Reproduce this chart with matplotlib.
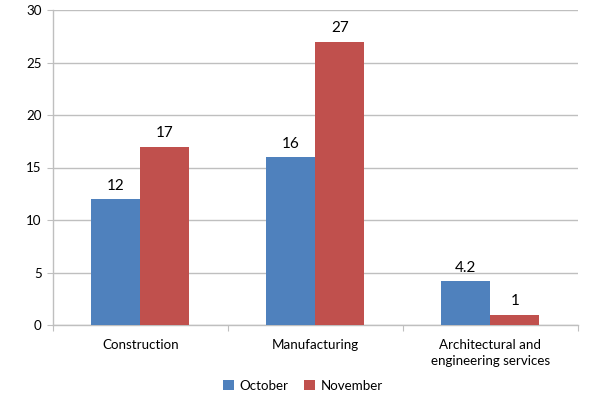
import matplotlib
matplotlib.use("Agg")
import matplotlib.pyplot as plt
import numpy as np

categories = ["Construction", "Manufacturing", "Architectural and\nengineering services"]
october = [12, 16, 4.2]
november = [17, 27, 1]
series_names = ["October", "November"]
label_oct = ["12", "16", "4.2"]
label_nov = ["17", "27", "1"]

plt.rcParams['font.family'] = ['Lato', 'DejaVu Sans']

fig = plt.figure(figsize=(6, 4), dpi=100)
ax = fig.add_axes([0.088, 0.1875, 0.875, 0.7875])

x = np.arange(len(categories))
w = 0.28
blue = "#4F81BD"
red = "#C0504D"
b1 = ax.bar(x - w/2, october, w, color=blue, label=series_names[0], zorder=3)
b2 = ax.bar(x + w/2, november, w, color=red, label=series_names[1], zorder=3)

for rect, t in zip(b1, label_oct):
    ax.text(rect.get_x() + rect.get_width()/2, rect.get_height() + 0.6, t,
            ha="center", va="bottom", fontsize=11, color="black")
for rect, t in zip(b2, label_nov):
    ax.text(rect.get_x() + rect.get_width()/2, rect.get_height() + 0.6, t,
            ha="center", va="bottom", fontsize=11, color="black")

ax.set_xlim(-0.5, 2.5)
ax.set_ylim(0, 30)
ax.set_yticks(range(0, 31, 5))
ax.yaxis.grid(True, color="#BFBFBF", linewidth=1, zorder=0)
ax.set_axisbelow(True)

ax.set_xticks([-0.5, 0.5, 1.5, 2.5])
ax.set_xticklabels([])
ax.set_xticks(x, minor=True)
ax.set_xticklabels(categories, minor=True, fontsize=9.6, linespacing=1.4)
ax.tick_params(axis="x", which="minor", length=0, pad=10)
ax.tick_params(axis="x", which="major", length=4, color="#BFBFBF", direction="out")
ax.tick_params(axis="y", length=4, color="#BFBFBF", labelsize=9.6, pad=4)

for s in ["top", "right"]:
    ax.spines[s].set_visible(False)
for s in ["left", "bottom"]:
    ax.spines[s].set_color("#BFBFBF")
    ax.spines[s].set_linewidth(1)

fig.legend(handles=[b1, b2], labels=series_names, loc="center", bbox_to_anchor=(0.505, 0.035),
           ncol=2, frameon=False, fontsize=9.6, handlelength=0.8, handleheight=0.8,
           handletextpad=0.4, columnspacing=1.2)

fig.savefig("out.png", dpi=100)
